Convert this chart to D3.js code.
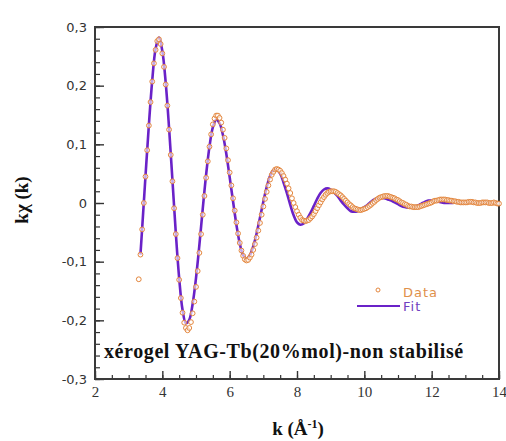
<!DOCTYPE html>
<html>
<head>
<meta charset="utf-8">
<script src="https://cdn.jsdelivr.net/npm/d3@7"></script>
<style>
  html, body { margin: 0; padding: 0; background: #fff; }
  svg { display: block; }
</style>
</head>
<body>
<svg id="chart" width="506" height="441"></svg>
<script>
// ---- data ----
const xDomain = [2, 14];
const yDomain = [-0.3, 0.3];
const xMajorTicks = [2, 4, 6, 8, 10, 12, 14];
const xTickLabels = ["2", "4", "6", "8", "10", "12", "14"];
const yMajorTicks = [-0.3, -0.2, -0.1, 0, 0.1, 0.2, 0.3];
const yTickLabels = ["-0,3", "-0,2", "-0,1", "0", "0,1", "0,2", "0,3"];
const seriesNames = ["Data", "Fit"];
const annotation = "xérogel YAG-Tb(20%mol)-non stabilisé";

// experimental k·chi(k) : [k, value]
const dataPoints = [
  [3.30,-0.130],[3.35,-0.088],[3.40,-0.045],[3.45,0.000],[3.50,0.045],[3.55,0.090],[3.60,0.132],[3.65,0.172],
  [3.70,0.207],[3.75,0.238],[3.80,0.261],[3.85,0.276],[3.90,0.279],[3.95,0.271],[4.00,0.255],[4.05,0.232],
  [4.10,0.202],[4.15,0.166],[4.20,0.125],[4.25,0.082],[4.30,0.037],[4.35,-0.009],[4.40,-0.053],[4.45,-0.094],
  [4.50,-0.131],[4.55,-0.162],[4.60,-0.187],[4.65,-0.204],[4.70,-0.213],[4.75,-0.217],[4.80,-0.213],[4.85,-0.203],
  [4.90,-0.188],[4.95,-0.168],[5.00,-0.143],[5.05,-0.116],[5.10,-0.085],[5.15,-0.053],[5.20,-0.020],[5.25,0.012],
  [5.30,0.043],[5.35,0.071],[5.40,0.096],[5.45,0.117],[5.50,0.134],[5.55,0.144],[5.60,0.149],[5.65,0.149],
  [5.70,0.145],[5.75,0.137],[5.80,0.125],[5.85,0.111],[5.90,0.093],[5.95,0.073],[6.00,0.052],[6.05,0.030],
  [6.10,0.008],[6.15,-0.013],[6.20,-0.033],[6.25,-0.052],[6.30,-0.068],[6.35,-0.081],[6.40,-0.090],[6.45,-0.096],
  [6.50,-0.098],[6.55,-0.097],[6.60,-0.093],[6.65,-0.088],[6.70,-0.080],[6.75,-0.070],[6.80,-0.059],[6.85,-0.047],
  [6.90,-0.034],[6.95,-0.020],[7.00,-0.006],[7.05,0.007],[7.10,0.019],[7.15,0.030],[7.20,0.040],[7.25,0.048],
  [7.30,0.053],[7.35,0.057],[7.40,0.058],[7.45,0.057],[7.50,0.055],[7.55,0.051],[7.60,0.046],[7.65,0.040],
  [7.70,0.033],[7.75,0.025],[7.80,0.017],[7.85,0.008],[7.90,0.000],[7.95,-0.007],[8.00,-0.014],[8.05,-0.020],
  [8.10,-0.025],[8.15,-0.029],[8.20,-0.030],[8.25,-0.031],[8.30,-0.030],[8.35,-0.029],[8.40,-0.026],[8.45,-0.023],
  [8.50,-0.019],[8.55,-0.014],[8.60,-0.009],[8.65,-0.004],[8.70,0.001],[8.75,0.006],[8.80,0.010],[8.85,0.014],
  [8.90,0.017],[8.95,0.019],[9.00,0.020],[9.05,0.020],[9.10,0.020],[9.15,0.019],[9.20,0.017],[9.25,0.015],
  [9.30,0.013],[9.35,0.010],[9.40,0.007],[9.45,0.004],[9.50,0.001],[9.55,-0.002],[9.60,-0.004],[9.65,-0.007],
  [9.70,-0.009],[9.75,-0.010],[9.80,-0.011],[9.85,-0.012],[9.90,-0.012],[9.95,-0.011],[10.00,-0.010],[10.05,-0.009],
  [10.10,-0.007],[10.15,-0.005],[10.20,-0.003],[10.25,0.000],[10.30,0.002],[10.35,0.005],[10.40,0.007],[10.45,0.009],
  [10.50,0.010],[10.55,0.011],[10.60,0.012],[10.65,0.012],[10.70,0.012],[10.75,0.011],[10.80,0.010],[10.85,0.009],
  [10.90,0.008],[10.95,0.006],[11.00,0.005],[11.05,0.003],[11.10,0.001],[11.15,0.000],[11.20,-0.002],[11.25,-0.003],
  [11.30,-0.005],[11.35,-0.006],[11.40,-0.006],[11.45,-0.007],[11.50,-0.007],[11.55,-0.007],[11.60,-0.007],[11.65,-0.006],
  [11.70,-0.005],[11.75,-0.004],[11.80,-0.003],[11.85,-0.002],[11.90,-0.001],[11.95,0.000],[12.00,0.001],[12.05,0.003],
  [12.10,0.004],[12.15,0.004],[12.20,0.005],[12.25,0.006],[12.30,0.006],[12.35,0.006],[12.40,0.006],[12.45,0.005],
  [12.50,0.005],[12.55,0.004],[12.60,0.004],[12.65,0.003],[12.70,0.003],[12.75,0.002],[12.80,0.002],[12.85,0.001],
  [12.90,0.001],[12.95,0.001],[13.00,0.001],[13.05,0.001],[13.10,0.002],[13.15,0.002],[13.20,0.002],[13.25,0.001],
  [13.30,0.001],[13.35,0.000],[13.40,0.000],[13.45,0.000],[13.50,0.001],[13.55,0.001],[13.60,0.001],[13.65,0.001],
  [13.70,0.000],[13.75,0.000],[13.80,0.000],[13.85,0.001],[13.90,0.000],[13.95,-0.001],[14.00,-0.001]
];

// fitted k·chi(k) : [k, value]
const fitPoints = [
  [3.35,-0.088],[3.40,-0.044],[3.50,0.046],[3.60,0.133],[3.70,0.209],[3.80,0.263],[3.90,0.282],[4.00,0.259],
  [4.10,0.205],[4.20,0.128],[4.30,0.039],[4.40,-0.051],[4.50,-0.128],[4.60,-0.182],[4.70,-0.205],[4.80,-0.199],
  [4.90,-0.172],[5.00,-0.128],[5.10,-0.072],[5.20,-0.010],[5.30,0.048],[5.40,0.096],[5.50,0.129],[5.60,0.142],
  [5.70,0.136],[5.80,0.116],[5.90,0.084],[6.00,0.044],[6.10,0.003],[6.20,-0.037],[6.30,-0.069],[6.40,-0.089],
  [6.50,-0.095],[6.60,-0.089],[6.70,-0.074],[6.80,-0.052],[6.90,-0.025],[7.00,0.002],[7.10,0.027],[7.20,0.046],
  [7.30,0.056],[7.40,0.057],[7.50,0.050],[7.60,0.035],[7.70,0.017],[7.80,-0.003],[7.90,-0.021],[8.00,-0.033],
  [8.10,-0.037],[8.20,-0.035],[8.30,-0.027],[8.40,-0.017],[8.50,-0.005],[8.60,0.007],[8.70,0.017],[8.80,0.023],
  [8.90,0.025],[9.00,0.023],[9.10,0.018],[9.20,0.012],[9.30,0.004],[9.40,-0.003],[9.50,-0.009],[9.60,-0.014],
  [9.70,-0.015],[9.80,-0.014],[9.90,-0.011],[10.00,-0.007],[10.10,-0.003],[10.20,0.002],[10.30,0.006],[10.40,0.008],
  [10.50,0.009],[10.60,0.008],[10.70,0.006],[10.80,0.004],[10.90,0.001],[11.00,-0.002],[11.10,-0.005],[11.20,-0.007],
  [11.30,-0.008],[11.40,-0.008],[11.50,-0.006],[11.60,-0.004],[11.70,-0.001],[11.80,0.002],[11.90,0.004],[12.00,0.004],
  [12.10,0.003],[12.20,0.002],[12.30,0.001],[12.40,0.000],[12.50,0.000],[12.60,0.000],[12.70,0.001],[12.80,0.001],
  [12.90,0.001],[13.00,0.001],[13.10,0.001],[13.20,0.001],[13.30,0.001],[13.40,0.001],[13.50,0.001],[13.60,0.001],
  [13.70,0.000],[13.80,0.000],[13.90,0.001],[14.00,0.001]
];

// ---- drawing ----
const dataColor = "#E4873E";
const fitColor = "#6A22C8";
const axisColor = "#333";

const svg = d3.select("#chart");
svg.append("rect").attr("width", 506).attr("height", 441).attr("fill", "#fff");

const plotLeft = 95, plotRight = 499, plotTop = 27, plotBottom = 379;
const x = d3.scaleLinear().domain(xDomain).range([plotLeft, plotRight]);
const y = d3.scaleLinear().domain(yDomain).range([plotBottom, plotTop]);

// minor ticks
svg.append("g").attr("transform", `translate(${plotLeft},0)`)
  .call(d3.axisLeft(y).tickValues(d3.range(-0.3, 0.3001, 0.02)).tickSize(-5).tickFormat(""))
  .call(g => g.select(".domain").remove())
  .call(g => g.selectAll("line").attr("stroke", axisColor).attr("stroke-width", 1.2));
svg.append("g").attr("transform", `translate(0,${plotBottom})`)
  .call(d3.axisBottom(x).tickValues(d3.range(2, 14.001, 0.5)).tickSize(-4).tickFormat(""))
  .call(g => g.select(".domain").remove())
  .call(g => g.selectAll("line").attr("stroke", axisColor).attr("stroke-width", 1.2));

// major ticks + labels
const yAxis = svg.append("g").attr("transform", `translate(${plotLeft},0)`)
  .call(d3.axisLeft(y).tickValues(yMajorTicks).tickSize(-9).tickPadding(8)
    .tickFormat((d, i) => yTickLabels[i]))
  .call(g => g.select(".domain").remove());
yAxis.selectAll("line").attr("stroke", axisColor).attr("stroke-width", 1.4);
yAxis.selectAll("text").attr("fill", "#333").style("font-family", "'DejaVu Sans', sans-serif").style("font-size", "13px");

const xAxis = svg.append("g").attr("transform", `translate(0,${plotBottom})`)
  .call(d3.axisBottom(x).tickValues(xMajorTicks).tickSize(-8).tickPadding(7)
    .tickFormat((d, i) => xTickLabels[i]))
  .call(g => g.select(".domain").remove());
xAxis.selectAll("line").attr("stroke", axisColor).attr("stroke-width", 1.4);
xAxis.selectAll("text").attr("fill", "#333").style("font-family", "'Liberation Serif', serif").style("font-size", "15px");

// frame
svg.append("rect").attr("x", plotLeft).attr("y", plotTop).attr("width", plotRight - plotLeft).attr("height", plotBottom - plotTop)
  .attr("fill", "none").attr("stroke", "#3a3a3a").attr("stroke-width", 2);

// fit line
const line = d3.line().x(d => x(d[0])).y(d => y(d[1])).curve(d3.curveCatmullRom);
svg.append("path").datum(fitPoints).attr("d", line)
  .attr("fill", "none").attr("stroke", fitColor).attr("stroke-width", 2.6);

// data circles
svg.append("g").selectAll("circle").data(dataPoints).join("circle")
  .attr("cx", d => x(d[0])).attr("cy", d => y(d[1])).attr("r", 2.4)
  .attr("fill", "#fff").attr("fill-opacity", 0.6)
  .attr("stroke", dataColor).attr("stroke-width", 1);

// legend
const lg = svg.append("g").style("font-family", "'DejaVu Sans', sans-serif").style("font-size", "13px")
  .style("letter-spacing", "1px");
lg.append("circle").attr("cx", 378).attr("cy", 290).attr("r", 2).attr("fill", "#fff")
  .attr("stroke", dataColor).attr("stroke-width", 1);
lg.append("text").attr("x", 403).attr("y", 297).attr("fill", "#E0904A").text(seriesNames[0]);
lg.append("line").attr("x1", 357).attr("x2", 400).attr("y1", 306).attr("y2", 306)
  .attr("stroke", fitColor).attr("stroke-width", 2.2);
lg.append("text").attr("x", 403).attr("y", 311).attr("fill", "#7040C0").text(seriesNames[1]);

// annotation
svg.append("text").attr("x", 104).attr("y", 358)
  .style("font-family", "'Liberation Serif', serif").style("font-weight", "bold").style("font-size", "20px")
  .style("letter-spacing", "0.6px")
  .attr("fill", "#111").text(annotation);

// axis titles
svg.append("text").attr("x", 298).attr("y", 435).attr("text-anchor", "middle")
  .style("font-family", "'Liberation Serif', serif").style("font-weight", "bold").style("font-size", "19px")
  .attr("fill", "#111")
  .call(t => {
    t.append("tspan").text("k (Å");
    t.append("tspan").attr("dy", -7).style("font-size", "12px").text("-1");
    t.append("tspan").attr("dy", 7).text(")");
  });

svg.append("text").attr("transform", "translate(28,200) rotate(-90)").attr("text-anchor", "middle")
  .style("font-family", "'Liberation Serif', serif").style("font-weight", "bold").style("font-size", "19px")
  .attr("fill", "#111").text("kχ (k)");
</script>
</body>
</html>
